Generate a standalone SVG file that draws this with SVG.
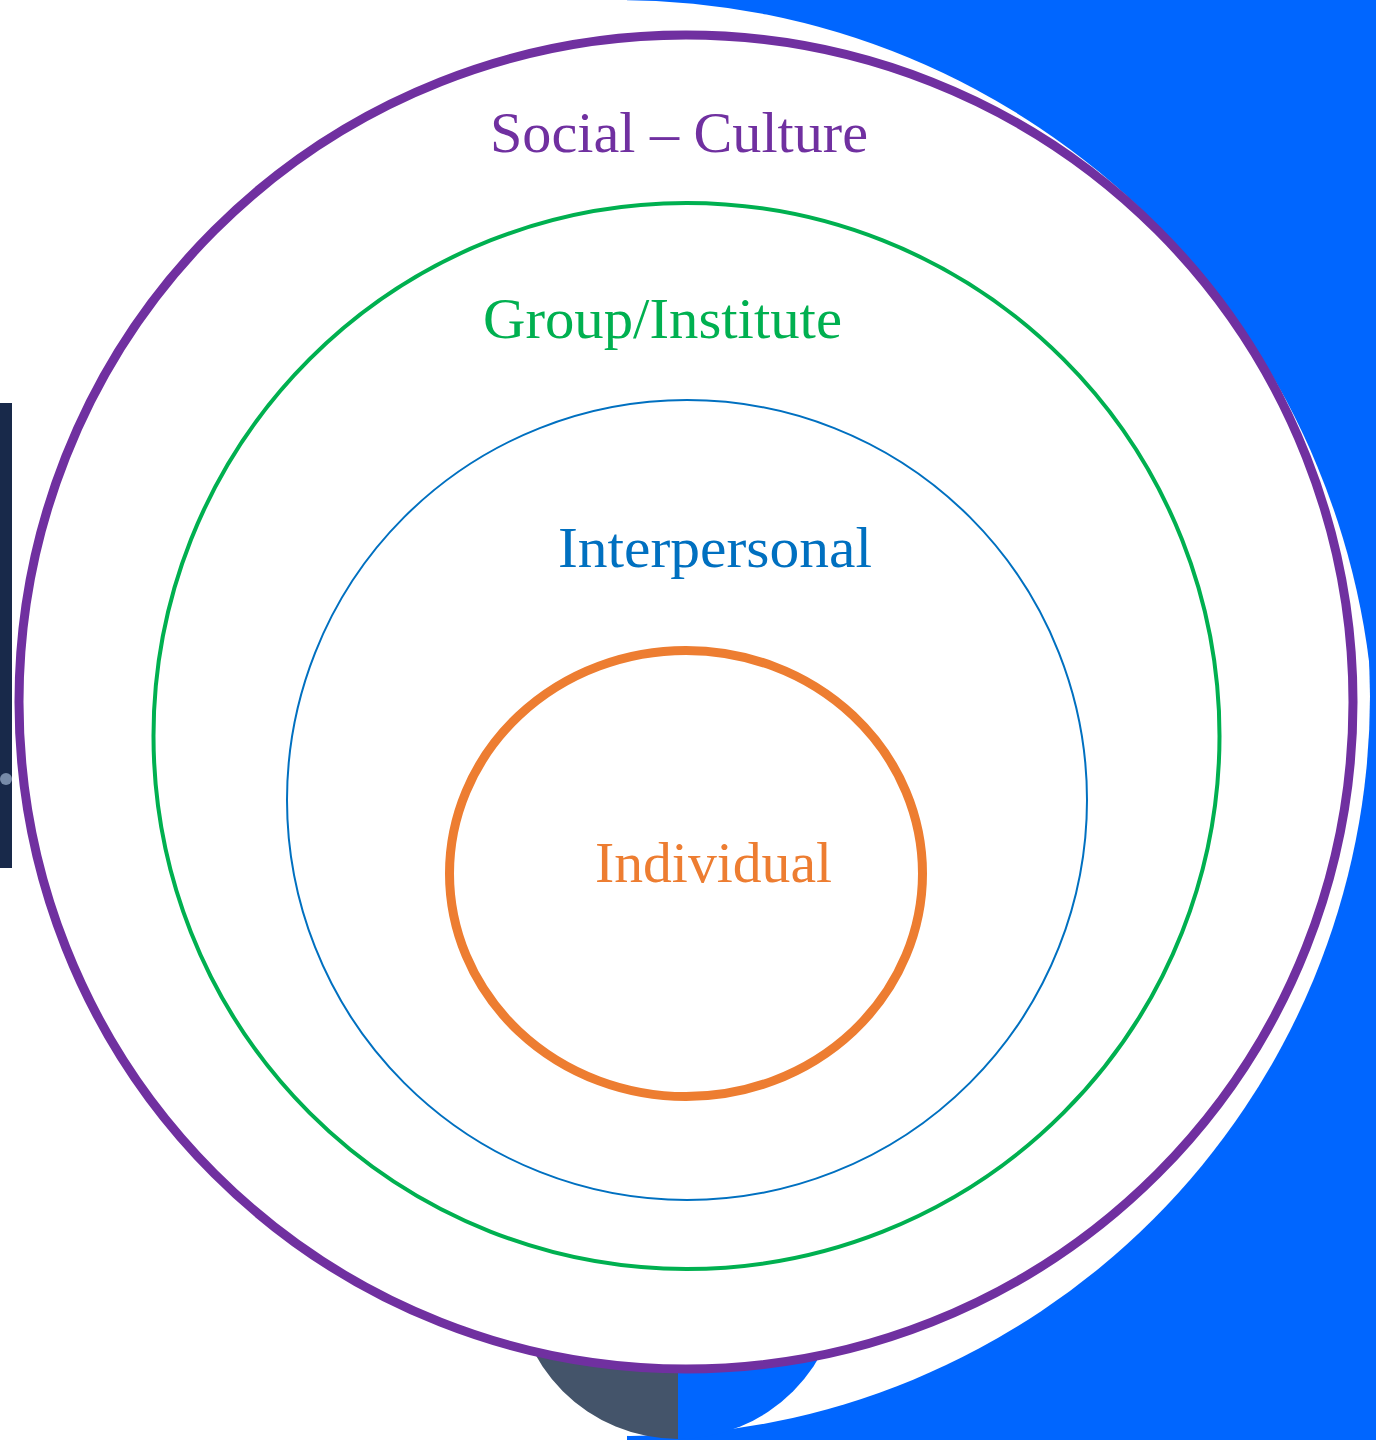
<svg xmlns="http://www.w3.org/2000/svg" width="1376" height="1440" viewBox="0 0 1376 1440">
  <style>
    .lbl { font-family: "Liberation Serif", "Times New Roman", serif; font-size: 58px; }
    .ring { fill: none; }
  </style>
  <defs>
    <clipPath id="upperArc">
      <circle cx="619" cy="756" r="756"/>
    </clipPath>
  </defs>
  <g id="background">
    <rect x="0" y="0" width="1376" height="1440" fill="#FFFFFF"/>
    <rect x="627" y="0" width="749" height="1440" fill="#0066FF"/>
    <circle cx="630" cy="696" r="740" fill="#FFFFFF" clip-path="url(#upperArc)"/>
    <path d="M678,1113 A163,163 0 0 0 678,1439 Z" fill="#44546A"/>
    <path d="M678,1113 A163,163 0 0 1 678,1439 Z" fill="#0066FF"/>
    <rect x="0" y="403" width="12" height="465" fill="#18294A"/>
    <ellipse cx="6" cy="779" rx="6" ry="6" fill="#8FA3BF" opacity="0.8"/>
  </g>
  <g id="connectors"></g>
  <g id="social-culture">
    <circle cx="686" cy="702" r="667" fill="#FFFFFF" stroke="#7030A0" stroke-width="9"/>
    <text class="lbl" x="490" y="152" fill="#7030A0" textLength="378" lengthAdjust="spacingAndGlyphs">Social – Culture</text>
  </g>
  <g id="group-institute">
    <circle class="ring" cx="686.5" cy="736" r="533" stroke="#00B050" stroke-width="4"/>
    <text class="lbl" x="483" y="338" fill="#00B050" textLength="359" lengthAdjust="spacingAndGlyphs">Group/Institute</text>
  </g>
  <g id="interpersonal">
    <circle class="ring" cx="687" cy="800" r="400" stroke="#0070C0" stroke-width="2"/>
    <text class="lbl" x="558" y="567" fill="#0070C0" textLength="314" lengthAdjust="spacingAndGlyphs">Interpersonal</text>
  </g>
  <g id="individual">
    <ellipse class="ring" cx="686" cy="873.5" rx="236.5" ry="223" stroke="#ED7D31" stroke-width="9"/>
    <text class="lbl" x="595" y="882" fill="#ED7D31" textLength="237" lengthAdjust="spacingAndGlyphs">Individual</text>
  </g>
</svg>
